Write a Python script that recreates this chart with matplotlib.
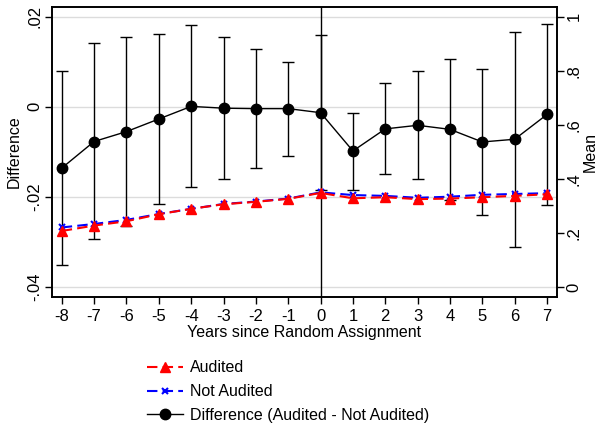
import matplotlib.pyplot as plt

plt.rcParams['font.family'] = ['Liberation Sans', 'DejaVu Sans']

# Data
years = [-8, -7, -6, -5, -4, -3, -2, -1, 0, 1, 2, 3, 4, 5, 6, 7]
diff = [-0.0136, -0.0077, -0.0055, -0.0027, 0.0001, -0.0003, -0.0004, -0.0004,
        -0.0013, -0.0098, -0.0049, -0.0041, -0.0050, -0.0078, -0.0072, -0.0017]
diff_hi = [0.0080, 0.0141, 0.0156, 0.0161, 0.0182, 0.0156, 0.0128, 0.0100,
           0.0160, -0.0013, 0.0054, 0.0079, 0.0106, 0.0083, 0.0167, 0.0184]
diff_lo = [-0.0352, -0.0293, -0.0265, -0.0216, -0.0178, -0.0161, -0.0136, -0.0109,
           -0.0184, -0.0184, -0.0150, -0.0161, -0.0207, -0.0240, -0.0312, -0.0218]
audited = [0.207, 0.227, 0.243, 0.269, 0.289, 0.306, 0.315, 0.326,
           0.348, 0.328, 0.332, 0.325, 0.327, 0.332, 0.337, 0.343]
not_audited = [0.220, 0.233, 0.248, 0.270, 0.289, 0.307, 0.316, 0.327,
               0.350, 0.340, 0.337, 0.330, 0.334, 0.341, 0.344, 0.347]

left_ticks = [-0.04, -0.02, 0, 0.02]
left_labels = ['-.04', '-.02', '0', '.02']
right_ticks = [0, 0.2, 0.4, 0.6, 0.8, 1]
right_labels = ['0', '.2', '.4', '.6', '.8', '1']

fig = plt.figure(figsize=(5.98, 4.29), dpi=100)
ax = fig.add_axes([0.0865, 0.308, 0.845, 0.676])
ax2 = ax.twinx()

# gridlines on left axis
for t in left_ticks:
    ax.axhline(t, color='#dcdcdc', lw=1, zorder=0)
ax.axvline(0, color='black', lw=1, zorder=1)

yerr = [[d - l for d, l in zip(diff, diff_lo)], [h - d for d, h in zip(diff, diff_hi)]]
ax.errorbar(years, diff, yerr=yerr, fmt='none', ecolor='black', elinewidth=1,
            capsize=4, capthick=1, zorder=2)
h_diff, = ax.plot(years, diff, color='black', lw=1, marker='o', markersize=7.5,
                  zorder=3, label='Difference (Audited - Not Audited)')

h_na, = ax2.plot(years, not_audited, color='blue', lw=1.5, ls=(0, (5, 2.5)),
                 marker='x', markersize=5, mew=1.5, label='Not Audited')
h_a, = ax2.plot(years, audited, color='red', lw=1.5, ls=(0, (5, 2.5)),
                marker='^', markersize=7, label='Audited')

ax.set_xlim(-8.31, 7.31)
ax.set_ylim(-0.0422, 0.0222)
ax2.set_ylim(-0.037, 1.037)

ax.set_xticks(years)
ax.set_xticklabels([str(y) for y in years], fontsize=12)
ax.set_yticks(left_ticks)
ax.set_yticklabels(left_labels, fontsize=12, rotation=90, va='center')
ax2.set_yticks(right_ticks)
ax2.set_yticklabels(right_labels, fontsize=12, rotation=90, va='center')

ax.tick_params(direction='out', length=5, width=1)
ax.tick_params(axis='y', pad=2)
ax2.tick_params(direction='out', length=5, width=1, pad=2)

ax.set_xlabel('Years since Random Assignment', fontsize=11.5, labelpad=1)
ax.set_ylabel('Difference', fontsize=11.5)
ax.yaxis.set_label_coords(-0.06, 0.5)
ax2.set_ylabel('Mean', fontsize=11.5, rotation=90)
ax2.yaxis.set_label_coords(1.05, 0.5)

for a in (ax, ax2):
    for s in a.spines.values():
        s.set_linewidth(1.2)

fig.legend(handles=[h_a, h_na, h_diff], loc='upper left',
           bbox_to_anchor=(0.245, 0.16), frameon=False, fontsize=11.5,
           handlelength=2.3, handletextpad=0.4, labelspacing=0.55,
           borderaxespad=0, borderpad=0)

fig.savefig('out.png', dpi=100)
